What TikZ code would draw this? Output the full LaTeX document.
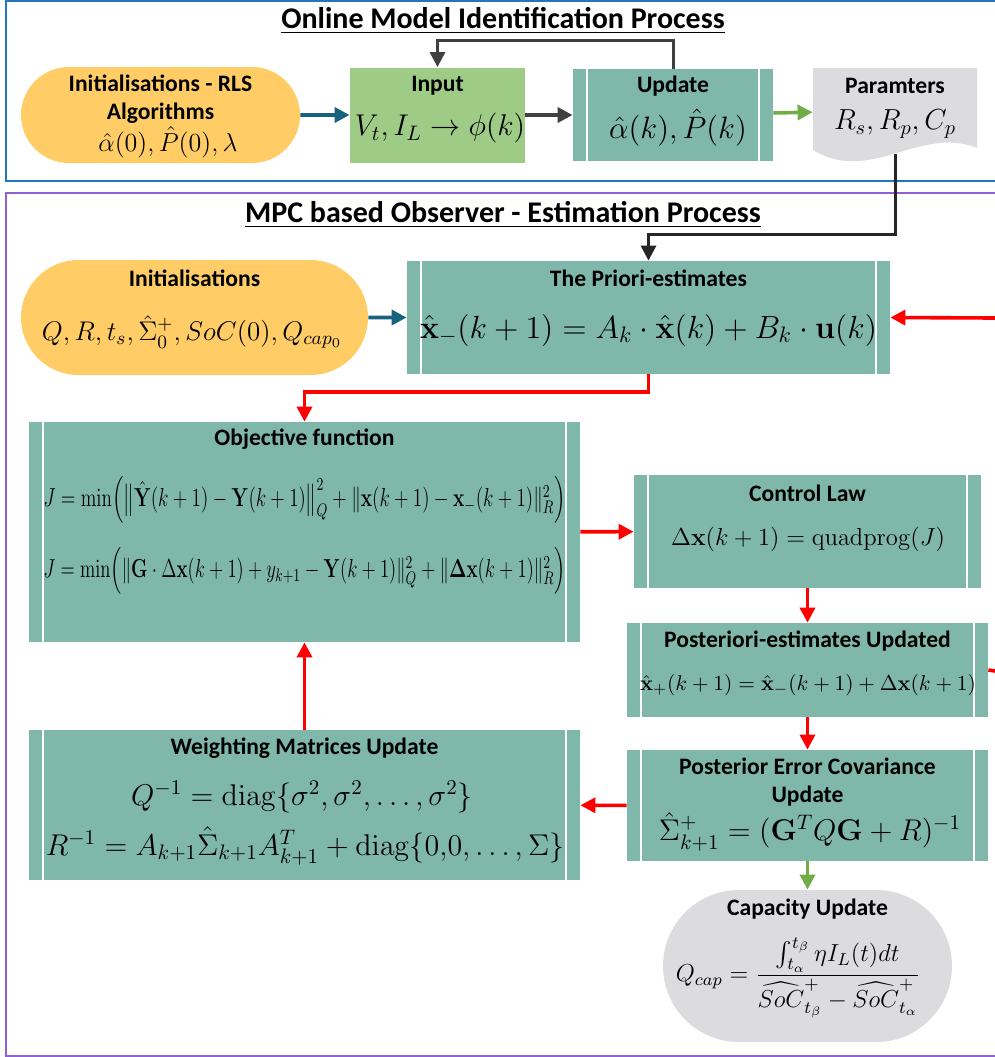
\RequirePackage{fix-cm}
\documentclass[tikz,border=0pt]{standalone}
\usepackage[no-math]{fontspec}
\usepackage{amsmath,amssymb,graphicx}
\newfontfamily\calibri{Carlito}
\usetikzlibrary{arrows.meta,positioning,shapes.misc}

\definecolor{frameblue}{RGB}{33,118,190}
\definecolor{framepurple}{RGB}{146,96,214}
\definecolor{initorange}{RGB}{255,204,102}
\definecolor{inputgreen}{RGB}{158,203,134}
\definecolor{procteal}{RGB}{127,184,170}
\definecolor{docgrey}{RGB}{220,220,223}
\definecolor{arrblue}{RGB}{24,98,128}
\definecolor{arrdark}{RGB}{64,64,64}
\definecolor{arrgreen}{RGB}{112,173,71}

\tikzset{
  heading/.style={font=\calibri\bfseries\fontsize{15}{17}\selectfont},
  boxtitle/.style={font=\calibri\bfseries\fontsize{11.8}{14}\selectfont, align=center, inner sep=0pt},
  mathtext/.style={font=\fontsize{#1}{#1}\selectfont, inner sep=0pt},
  initbox/.style={rounded rectangle, fill=initorange, inner sep=0pt},
  procbox/.style={rectangle, fill=procteal, inner sep=0pt,
    path picture={\draw[white, line width=1pt]
      ([xshift=7pt]path picture bounding box.north west) -- ([xshift=7pt]path picture bounding box.south west)
      ([xshift=-7pt]path picture bounding box.north east) -- ([xshift=-7pt]path picture bounding box.south east);}},
  arr/.style={-{Triangle[length=7.5pt,width=7.5pt]}, line width=1.8pt},
}

\begin{document}
\begin{tikzpicture}[x=0.5pt,y=-0.5pt]
\useasboundingbox (0,0) rectangle (995,1057);
\clip (0,0) rectangle (995,1057);

% frames and headings
\draw[frameblue, line width=1pt] (6,1) rectangle (1003,181);
\draw[framepurple, line width=1pt] (6,193) rectangle (1003,1056);
\node[heading] (onlinetitle) at (503,21) {\underline{Online Model Identification Process}};
\node[heading] (mpctitle) at (503,215) {\underline{MPC based Observer - Estimation Process}};

% online model identification
\node[initbox, minimum width=139.5pt, minimum height=48pt] (rlsinit) at (160.5,115) {};
\node[boxtitle] (rlsinittitle) at (160.5,99) {Initialisations - RLS\\Algorithms};
\node[mathtext=13] (rlsinitmath) at (168,142) {$\hat{\alpha}(0),\hat{P}(0),\lambda$};

\node[fill=inputgreen, inner sep=0pt, minimum width=87.5pt, minimum height=47.5pt] (input) at (437.5,115) {};
\node[boxtitle] (inputtitle) at (437.5,86) {Input};
\node[mathtext=15] (inputmath) at (440,128) {$V_t, I_L \rightarrow \phi(k)$};

\node[procbox, minimum width=100pt, minimum height=46pt] (update) at (673,115) {};
\node[boxtitle] (updatetitle) at (673,86) {Update};
\node[mathtext=15.5] (updatemath) at (678,128) {$\hat{\alpha}(k),\hat{P}(k)$};

\fill[docgrey] (813,68) -- (977,68) -- (977,148) .. controls (920,125) and (870,185) .. (813,150) -- cycle;
\node[inner sep=0pt, minimum width=82pt, minimum height=43pt] (params) at (895,110.5) {};
\node[boxtitle] (paramstitle) at (895,86) {Paramters};
\node[mathtext=14.5] (paramsmath) at (895,124) {$R_s, R_p, C_p$};

\draw[arr, arrblue] (rlsinit) -- (input);
\draw[arr, arrdark] (input) -- (update);
\coordinate (fbturn) at (673,40);
\draw[arr, arrdark, line width=1.5pt] (update.north) -- (fbturn) -| (input.north);
\draw[arr, arrgreen] (update) -- (params);

% MPC based observer
\node[initbox, minimum width=173.5pt, minimum height=57.5pt] (mpcinit) at (194.5,317.5) {};
\node[boxtitle] (mpcinittitle) at (194.5,278) {Initialisations};
\node[mathtext=13.5] (mpcinitmath) at (192,332) {$Q, R, t_s, \hat{\Sigma}_0^+, SoC(0), Q_{cap_0}$};

\node[procbox, minimum width=241.5pt, minimum height=56.5pt] (priori) at (648.5,317.5) {};
\node[boxtitle] (priorititle) at (648.5,278) {The Priori-estimates};
\node[mathtext=16] (priorimath) at (648.5,330) {$\hat{\mathbf{x}}_{-}(k+1) = A_k\cdot\hat{\mathbf{x}}(k) + B_k\cdot\mathbf{u}(k)$};

\node[procbox, minimum width=275.5pt, minimum height=110pt] (objective) at (304.5,532) {};
\node[boxtitle] (objectivetitle) at (304.5,439) {Objective function};
\node[mathtext=13] (objectiveeqa) at (304.5,500) {\resizebox{261pt}{\height}{$J=\min\Bigl(\bigl\|\hat{\mathbf{Y}}(k+1)-\mathbf{Y}(k+1)\bigr\|_Q^2+\|\mathbf{x}(k+1)-\mathbf{x}_{-}(k+1)\|_R^2\Bigr)$}};
\node[mathtext=13] (objectiveeqb) at (304.5,571) {\resizebox{261pt}{\height}{$J=\min\Bigl(\|\mathbf{G}\cdot\Delta\mathbf{x}(k+1)+y_{k+1}-\mathbf{Y}(k+1)\|_Q^2+\|\mathbf{\Delta x}(k+1)\|_R^2\Bigr)$}};

\node[procbox, minimum width=173.5pt, minimum height=56.5pt] (control) at (807.5,531.5) {};
\node[boxtitle] (controltitle) at (807.5,493) {Control Law};
\node[mathtext=12.3] (controlmath) at (808,539) {$\Delta\mathbf{x}(k+1) = \mathrm{quadprog}(J)$};

\node[procbox, minimum width=180.5pt, minimum height=47pt] (posteriori) at (807.5,670) {};
\node[boxtitle] (posteriorititle) at (807.5,641) {Posteriori-estimates Updated};
\node[mathtext=10.7] (posteriorimath) at (808,685) {$\hat{\mathbf{x}}_{+}(k+1) = \hat{\mathbf{x}}_{-}(k+1) + \Delta\mathbf{x}(k+1)$};

\node[procbox, minimum width=180.5pt, minimum height=55.5pt] (covariance) at (807.5,805.5) {};
\node[boxtitle] (covariancetitle) at (807.5,782) {Posterior Error Covariance\\Update};
\node[mathtext=15] (covariancemath) at (810,832) {$\hat{\Sigma}_{k+1}^{+} = (\mathbf{G}^T Q\mathbf{G} + R)^{-1}$};

\node[procbox, minimum width=275.5pt, minimum height=75pt] (weighting) at (304.5,805) {};
\node[boxtitle] (weightingtitle) at (304.5,748) {Weighting Matrices Update};
\node[mathtext=15] (weightingeqa) at (302,797) {$Q^{-1} = \mathrm{diag}\{\sigma^2,\sigma^2,\ldots,\sigma^2\}$};
\node[mathtext=15] (weightingeqb) at (305,846) {$R^{-1} = A_{k+1}\hat{\Sigma}_{k+1}A_{k+1}^T + \mathrm{diag}\{0{,}0,\ldots,\Sigma\}$};

\node[rounded rectangle, fill=docgrey, inner sep=0pt, minimum width=144.5pt, minimum height=76pt] (capacity) at (807.5,966) {};
\node[boxtitle] (capacitytitle) at (807.5,909) {Capacity Update};
\node[mathtext=12.3] (capacitymath) at (798,978) {$Q_{cap} = \dfrac{\int_{t_\alpha}^{t_\beta}\eta I_L(t)dt}{\widehat{SoC}_{t_\beta}^{+} - \widehat{SoC}_{t_\alpha}^{+}}$};

% connectors
\coordinate (parturn) at (895,234);
\draw[arr, black!85, line width=1.5pt] (params.south) -- (parturn) -| (priori.north);
\draw[arr, arrblue] (mpcinit) -- (priori);
\coordinate (feedin) at (995,318);
\coordinate (feedout) at (995,671);
\draw[arr, red] (feedin) -- (priori.east);
\coordinate (priturn) at (648.5,392);
\draw[arr, red] (priori.south) -- (priturn) -| (objective.north);
\draw[arr, red] (objective) -- (control);
\draw[arr, red] (control) -- (posteriori);
\draw[red, line width=1.8pt] (posteriori.east) -- (feedout);
\draw[arr, red] (posteriori) -- (covariance);
\draw[arr, arrgreen] (covariance) -- (capacity);
\draw[arr, red] (covariance) -- (weighting);
\draw[arr, red] (weighting) -- (objective);
\end{tikzpicture}
\end{document}
